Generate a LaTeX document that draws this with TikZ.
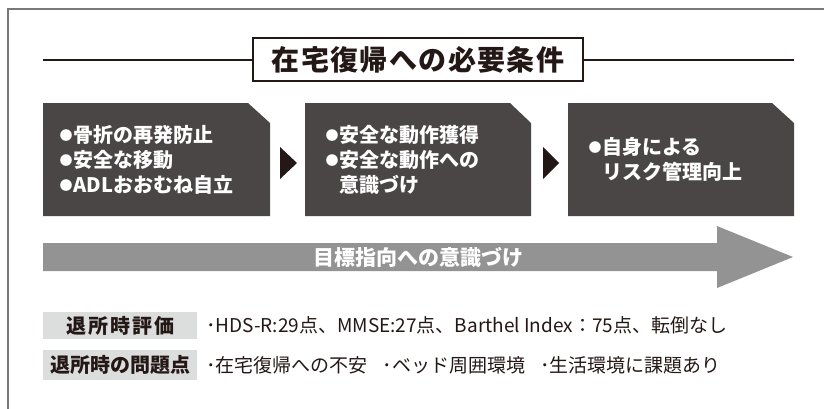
\documentclass[tikz,border=0pt]{standalone}
\usepackage{fontspec}
\setmainfont{Noto Sans CJK JP}
\definecolor{boxgray}{HTML}{4A4646}
\definecolor{inkdark}{HTML}{231815}
\definecolor{arrowgray}{HTML}{939393}
\definecolor{labelgray}{HTML}{DCDDDD}
\definecolor{framegray}{HTML}{7D7878}
% small round bullet used in the step boxes
\newcommand{\stepdot}{\raisebox{2pt}{\fontsize{13}{13}\selectfont ●}\hspace{1pt}}
\tikzset{
  stepbox/.style={fill=boxgray},
  steptext/.style={anchor=west, align=left, text=white,
    font=\bfseries\fontsize{20}{25}\selectfont},
  steptip/.style={fill=inkdark},
  sumlabel/.style={fill=labelgray, anchor=west, minimum width=154pt,
    inner sep=0pt, text=inkdark, font=\bfseries\fontsize{20}{20}\selectfont},
  sumtext/.style={anchor=west, inner sep=0pt, text=inkdark,
    font=\fontsize{19}{19}\selectfont}
}
\begin{document}
\begin{tikzpicture}[x=1pt,y=-1pt]
    \useasboundingbox (0,0) rectangle (824,408);

    % --- Outer frame (only left and top edges fall inside the page) ---
    \draw[framegray, line width=1.5pt] (8,420) -- (8,9) -- (840,9);

    % --- Title with rule ---
    \node[draw=inkdark, line width=1.8pt, minimum width=330pt, minimum height=43pt,
          text=inkdark, font=\bfseries\fontsize{28}{28}\selectfont] (title) at (418,59.5)
          {\addfontfeature{LetterSpace=5}在宅復帰への必要条件};
    \coordinate (ruleL) at (43,59.5);
    \coordinate (ruleR) at (794,59.5);
    \draw[inkdark, line width=2pt] (ruleL) -- (title.west);
    \draw[inkdark, line width=2pt] (title.east) -- (ruleR);

    % --- Three steps, each with a clipped top-right corner ---
    \fill[stepbox] (43,103) -- (248,103) -- (270,123) -- (270,216) -- (43,216) -- cycle;
    \fill[stepbox] (305,103) -- (510,103) -- (531,123) -- (531,216) -- (305,216) -- cycle;
    \fill[stepbox] (568,103) -- (772,103) -- (794,123) -- (794,216) -- (568,216) -- cycle;

    % Step texts
    \node[steptext] (stepA) at (56,159.5) {\stepdot 骨折の再発防止\\\stepdot 安全な移動\\\stepdot ADLおおむね自立};
    \node[steptext] (stepB) at (322,159.5) {\stepdot 安全な動作獲得\\\stepdot 安全な動作への\\\hphantom{\stepdot}意識づけ};
    \node[steptext] (stepC) at (585,159.5) {\stepdot 自身による\\\hphantom{\stepdot}リスク管理向上};

    % Small triangles between the steps
    \fill[steptip] (280,147) -- (297,163) -- (280,179) -- cycle;
    \fill[steptip] (543,147) -- (559,163) -- (543,179) -- cycle;

    % --- Long grey arrow ---
    \fill[arrowgray] (43,243) -- (717,243) -- (717,226) -- (793,257)
        -- (717,288) -- (717,271) -- (43,271) -- cycle;
    \node[text=white, font=\bfseries\fontsize{21}{21}\selectfont] (goal) at (418,257) {目標指向への意識づけ};

    % --- Summary at discharge ---
    \node[sumlabel, minimum height=27pt] (evalLabel) at (43,325.5) {\addfontfeature{LetterSpace=10}退所時評価};
    \node[sumtext] (evalText) at (206,325.5) {･HDS-R:29点、MMSE:27点、Barthel Index：75点、転倒なし};

    \node[sumlabel, minimum height=30pt] (issueLabel) at (43,365) {退所時の問題点};
    \node[sumtext] (issueText) at (206,365) {･在宅復帰への不安\hspace{15pt}･ベッド周囲環境\hspace{15pt}･生活環境に課題あり};

\end{tikzpicture}
\end{document}
